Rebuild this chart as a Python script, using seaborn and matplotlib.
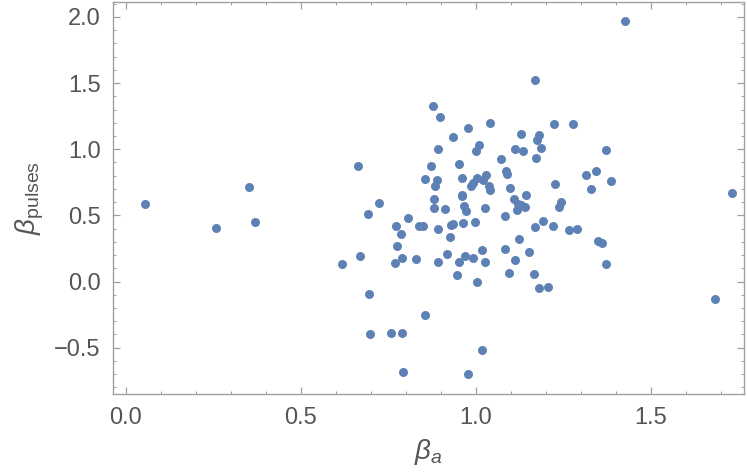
import numpy as np
import pandas as pd
import matplotlib
matplotlib.use("Agg")
import matplotlib.pyplot as plt
from matplotlib.ticker import MultipleLocator
import seaborn as sns

beta_a = [
    0.054, 0.256, 0.351, 0.369, 0.618, 0.669, 0.663, 0.724, 0.692, 0.695,
    0.697, 0.757, 0.789, 0.792, 0.855, 1.018, 0.976, 0.805, 0.772, 0.787,
    0.775, 0.769, 0.789, 0.829, 0.838, 0.849, 0.879, 0.879, 0.911, 0.893,
    0.928, 0.934, 0.927, 0.961, 0.965, 0.971, 0.962, 0.997, 1.027, 0.917,
    0.893, 0.953, 0.968, 0.991, 1.018, 1.027, 0.947, 1.003, 1.084, 1.110,
    1.121, 1.130, 1.116, 1.141, 1.143, 1.169, 1.193, 1.220, 1.243, 1.237,
    1.267, 1.290, 1.350, 1.359, 1.373, 1.682, 1.122, 1.083, 1.151, 1.111,
    1.095, 1.167, 1.181, 1.205,
    1.169, 0.876, 0.896, 0.976, 1.039, 1.223, 1.276, 0.935, 1.128, 1.181,
    1.175, 1.010, 1.000, 0.891, 1.112, 1.134, 1.187, 1.172, 1.071, 0.873,
    0.953, 1.085, 1.089, 1.314, 1.343, 0.855, 0.888, 0.883, 0.959, 1.002,
    1.029, 0.992, 0.985, 1.021, 1.036, 1.039, 1.098, 1.226, 1.329, 0.960,
    1.425, 1.371, 1.386, 1.732,
]
beta_pulses = [
    0.589, 0.404, 0.712, 0.452, 0.131, 0.192, 0.871, 0.596, 0.508, -0.091,
    -0.396, -0.391, -0.391, -0.682, -0.255, -0.515, -0.697, 0.482, 0.422, 0.359,
    0.265, 0.139, 0.177, 0.169, 0.422, 0.422, 0.621, 0.558, 0.545, 0.396,
    0.424, 0.432, 0.333, 0.644, 0.571, 0.533, 0.444, 0.452, 0.555, 0.210,
    0.146, 0.146, 0.192, 0.177, 0.240, 0.146, 0.053, -0.003, 0.492, 0.626,
    0.589, 0.576, 0.543, 0.563, 0.652, 0.411, 0.460, 0.422, 0.601, 0.563,
    0.389, 0.396, 0.305, 0.290, 0.131, -0.129, 0.318, 0.248, 0.225, 0.161,
    0.068, 0.058, -0.051, -0.038,
    1.523, 1.326, 1.240, 1.162, 1.199, 1.192, 1.192, 1.091, 1.114, 1.111,
    1.073, 1.035, 0.987, 1.005, 1.005, 0.987, 1.013, 0.934, 0.924, 0.871,
    0.886, 0.836, 0.811, 0.808, 0.836, 0.775, 0.768, 0.722, 0.785, 0.785,
    0.808, 0.745, 0.722, 0.765, 0.725, 0.689, 0.707, 0.737, 0.697, 0.652,
    1.970, 0.995, 0.760, 0.667,
]

df = pd.DataFrame({"beta_a": beta_a, "beta_pulses": beta_pulses})

sns.set_style("white")
plt.rcParams["font.family"] = ["Liberation Sans", "DejaVu Sans"]
plt.rcParams["mathtext.fontset"] = "custom"
plt.rcParams["mathtext.rm"] = "Liberation Sans"
plt.rcParams["mathtext.it"] = "Liberation Sans:italic"

text_col = "#555555"
frame_col = "#a0a0a0"

fig = plt.figure(figsize=(7.47, 4.75), dpi=100)
ax = fig.add_axes([0.1513, 0.1705, 0.8447, 0.8253])
sns.scatterplot(x="beta_a", y="beta_pulses", data=df, color="#5E81B5",
                s=42, linewidth=0, ax=ax)

ax.set_xlim(-0.037, 1.766)
ax.set_ylim(-0.85, 2.113)
ax.xaxis.set_major_locator(MultipleLocator(0.5))
ax.xaxis.set_minor_locator(MultipleLocator(0.1))
ax.yaxis.set_major_locator(MultipleLocator(0.5))
ax.yaxis.set_minor_locator(MultipleLocator(0.1))
ax.xaxis.set_major_formatter(matplotlib.ticker.FormatStrFormatter("%.1f"))
ax.yaxis.set_major_formatter(
    matplotlib.ticker.FuncFormatter(lambda v, p: f"{v:.1f}".replace("-", "\u2212")))

ax.tick_params(which="both", direction="in", bottom=True, left=True,
               top=True, right=True, color=frame_col, labelcolor=text_col,
               labelsize=17)
ax.tick_params(which="major", length=5, width=0.9, pad=9)
ax.tick_params(which="minor", length=2.5, width=0.7)
for sp in ax.spines.values():
    sp.set_color(frame_col)
    sp.set_linewidth(1.0)

ax.set_xlabel(r"$\beta_a$", fontsize=20, color=text_col, labelpad=6)
ax.set_ylabel(r"$\beta_{\mathrm{pulses}}$", fontsize=20, color=text_col, labelpad=6)

fig.savefig("out.png", dpi=100)
